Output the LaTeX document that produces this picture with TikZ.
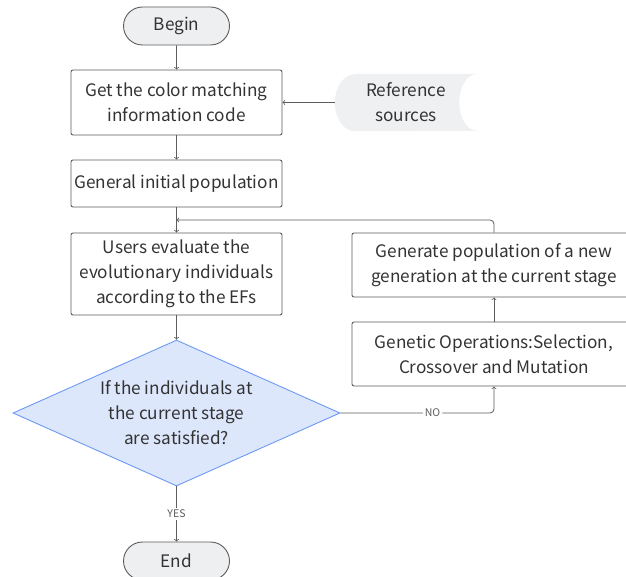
\documentclass[tikz,border=0pt]{standalone}
\usepackage{fontspec}
\setmainfont{Noto Sans CJK SC}
\usepackage{tikz}
\usetikzlibrary{shapes.geometric,shapes.misc,backgrounds}

\definecolor{ink}{HTML}{333333}
\definecolor{edge}{HTML}{5C5C5C}
\definecolor{termfill}{HTML}{EEEFF1}
\definecolor{reffill}{HTML}{EEF0F2}
\definecolor{decfill}{HTML}{DDE7FC}
\definecolor{decedge}{HTML}{6D99F2}

\begin{document}
\begin{tikzpicture}[x=1pt, y=1pt,
	every node/.style={text=ink, align=center, font=\fontsize{17.2}{25}\selectfont},
	term/.style={rounded rectangle, draw=edge, fill=termfill, line width=0.9pt, minimum width=106pt, minimum height=38pt, inner sep=0pt},
	box/.style={rectangle, rounded corners=2pt, draw=edge, line width=0.9pt, inner sep=0pt},
	flow/.style={->, draw=edge, line width=0.8pt},
	tag/.style={fill=white, inner sep=2pt, text=edge, font=\fontsize{10.5}{12}\selectfont}]
	\useasboundingbox (0,0) rectangle (626,-577);
	\node (begin) at (176.5,-26) [term] {Begin};
	\node (code) at (176.5,-102.5) [box, minimum width=211pt, minimum height=65pt] {Get the color matching\\information code};
	\node (ref) at (406,-102.5) [minimum width=142pt, minimum height=57pt, inner sep=0pt] {Reference\\sources};
		\node (init) at (176.5,-183.5) [box, minimum width=211pt, minimum height=47pt] {General initial population};
		\node (eval) at (176.5,-274) [box, minimum width=211pt, minimum height=82pt] {Users evaluate the\\evolutionary individuals\\according to the EFs};
		\node (newgen) at (494,-265) [box, minimum width=284pt, minimum height=64pt] {Generate population of a new\\generation at the current stage};
		\node (genop) at (494,-354) [box, minimum width=284pt, minimum height=64pt] {Genetic Operations:Selection,\\Crossover and Mutation};
			\node (check) at (176.5,-413) [diamond, draw=decedge, fill=decfill, line width=0.9pt, minimum width=327pt, minimum height=146pt, inner sep=0pt, aspect=2.24] {If the individuals at\\the current stage\\are satisfied?};
			\node (stop) at (176.5,-561) [term] {End};
	\coordinate (join) at (176.5,-220);
	\begin{scope}[on background layer]
		\fill[reffill] ([xshift=20pt]ref.north west) -- (ref.north east)
			arc[start angle=90, end angle=270, x radius=18pt, y radius=28.5pt]
			-- ([xshift=20pt]ref.south west)
			arc[start angle=270, end angle=90, x radius=20pt, y radius=28.5pt] -- cycle;
	\end{scope}
	\draw[flow] (begin) to (code);
	\draw[flow] (ref) to (code);
	\draw[flow] (code) to (init);
	\draw[flow] (init) to (eval);
	\draw[flow] (eval) to (check);
	\draw[flow] (check) to node [tag] {YES} (stop);
	\draw[flow, rounded corners=4pt] (check) -| node [tag, pos=0.3] {NO} (genop);
	\draw[flow] (genop) to (newgen);
	\draw[flow, rounded corners=4pt] (newgen) |- (join);
	\end{tikzpicture}
\end{document}
